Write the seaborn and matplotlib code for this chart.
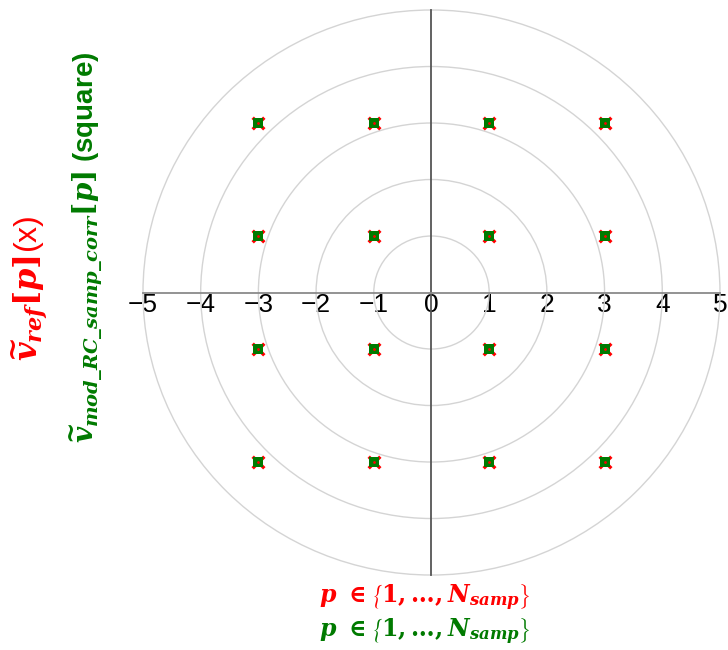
import numpy as np
import seaborn as sns
import matplotlib.pyplot as plt
from matplotlib.patches import Circle

# reference symbols (x) and corrected received symbols (square), 16-QAM
ref_i = [-3, -3, -3, -3, -1, -1, -1, -1, 1, 1, 1, 1, 3, 3, 3, 3]
ref_q = [3, 1, -1, -3, 3, 1, -1, -3, 3, 1, -1, -3, 3, 1, -1, -3]
mod_i = [-3, -3, -3, -3, -1, -1, -1, -1, 1, 1, 1, 1, 3, 3, 3, 3]
mod_q = [3, 1, -1, -3, 3, 1, -1, -3, 3, 1, -1, -3, 3, 1, -1, -3]

grid_radii = [1, 2, 3, 4, 5]
tick_vals = [-5, -4, -3, -2, -1, 0, 1, 2, 3, 4, 5]

sns.set_style("white")
plt.rcParams['font.family'] = ['Liberation Sans', 'DejaVu Sans']
plt.rcParams['mathtext.fontset'] = 'custom'
plt.rcParams['mathtext.it'] = 'DejaVu Serif:italic:bold'
plt.rcParams['mathtext.rm'] = 'DejaVu Serif:bold'
plt.rcParams['mathtext.bf'] = 'DejaVu Serif:bold'

red = '#ff0000'
green = '#007a00'

fig = plt.figure(figsize=(7.28, 6.5), dpi=100)
ax = fig.add_axes([0, 0, 1, 1])
ax.set_xlim(-7.478, 5.139)
ax.set_ylim(-6.327, 5.177)

# polar-like grid circles
for r in grid_radii:
    ax.add_patch(Circle((0, 0), r, fill=False, edgecolor='#d4d4d4', lw=1, zorder=1))

# axis lines through the origin
for s in ['top', 'right']:
    ax.spines[s].set_visible(False)
ax.spines['bottom'].set_position(('data', 0))
ax.spines['bottom'].set_bounds(-5, 5)
ax.spines['bottom'].set_color('#8a8a8a')
ax.spines['bottom'].set_linewidth(1.3)
ax.spines['left'].set_position(('data', 0))
ax.spines['left'].set_bounds(-5, 5)
ax.spines['left'].set_color('#555555')
ax.spines['left'].set_linewidth(1.3)
ax.set_xticks(tick_vals)
ax.set_yticks([])
ax.tick_params(axis='x', length=0, pad=0.5, labelsize=19, labelcolor='black')

sns.scatterplot(x=ref_i, y=ref_q, marker='x', color=red, s=70, linewidth=2.4, ax=ax, zorder=3)
sns.scatterplot(x=mod_i, y=mod_q, marker='s', color=green, s=46, linewidth=0, ax=ax, zorder=4)
sns.scatterplot(x=ref_i, y=ref_q, marker='o', color=red, s=4, linewidth=0, ax=ax, zorder=5)

# y-label (two coloured lines)
fig.text(30 / 728, 1 - 288 / 650, r'$\widetilde{v}_{ref}[p]$' + '(x)', rotation=90,
         color=red, fontsize=23, ha='center', va='center')
fig.text(86 / 728, 1 - 247 / 650, r'$\widetilde{v}_{mod\_RC\_samp\_corr}[p]$' + ' (square)',
         rotation=90, color=green, fontsize=20, fontweight='bold', ha='center', va='center')

# x-label (two coloured lines)
fig.text(425 / 728, 1 - 598 / 650, r'$p\ \in \left\{\mathbf{1},\ldots,N_{samp}\right\}$',
         color=red, fontsize=17, ha='center', va='center')
fig.text(425 / 728, 1 - 632 / 650, r'$p\ \in \left\{\mathbf{1},\ldots,N_{samp}\right\}$',
         color=green, fontsize=17, ha='center', va='center')

fig.savefig('out.png', dpi=100)
